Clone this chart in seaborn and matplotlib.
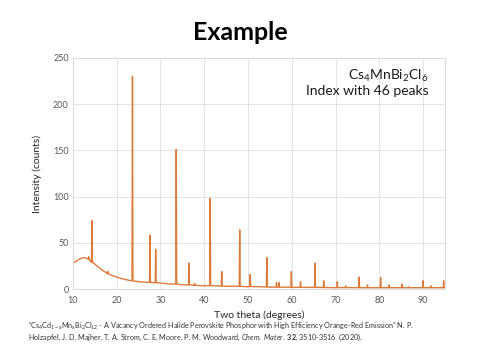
import matplotlib
matplotlib.use("Agg")
import matplotlib.pyplot as plt
import seaborn as sns
import pandas as pd

# ---- data ----
bg_theta = [10, 10.5, 11, 11.5, 12, 12.5, 13, 13.4, 14, 15, 16, 17, 17.7, 18.4, 19, 20,
            21, 22, 23, 24, 26, 28, 30, 32, 35, 38, 40, 45, 50, 55, 60, 70, 80, 95]
bg_counts = [28, 29.5, 31, 32.5, 33.5, 34, 33.5, 32.5, 30, 27, 23, 19.5, 17.5, 16, 14.5, 13,
             11.5, 10.3, 9.3, 8.6, 7.6, 7, 6.5, 5.5, 4.6, 4, 3.6, 3, 2.5, 2.1, 1.8, 1.5, 1.5, 1.5]

peak_theta = [13.6, 14.35, 18.0, 23.6, 27.6, 28.9, 33.6, 36.5, 37.8, 41.35, 44.0, 48.1,
              50.5, 54.3, 56.5, 57.1, 59.9, 62.0, 65.3, 67.3, 70.4, 72.3, 75.4, 77.3,
              80.3, 82.2, 85.2, 86.8, 90.0, 91.8, 94.7]
peak_top = [35, 74, 19, 230, 58, 43, 151, 28, 6, 98, 19, 64,
            16, 34, 7, 7, 19, 8, 28, 9, 8, 3.5, 13, 4.5,
            12.5, 4.5, 5.5, 2.5, 9, 3.5, 9]
peak_base = [32.5, 29, 16.5, 9, 7.2, 7, 5.5, 4.6, 4.2, 3.8, 3.3, 3,
             2.8, 2.3, 2.1, 2.1, 2, 1.9, 1.8, 1.7, 1.6, 1.6, 1.5, 1.5,
             1.5, 1.5, 1.5, 1.5, 1.5, 1.5, 1.5]

title = "Example"
xlabel = "Two theta (degrees)"
ylabel = "Intensity (counts)"
x_ticks = [10, 20, 30, 40, 50, 60, 70, 80, 90]
y_ticks = [0, 50, 100, 150, 200, 250]

# ---- build the line (background + sharp peaks) ----
half_width = 0.1
rows = [(t, c) for t, c in zip(bg_theta, bg_counts)]
for t, top, base in zip(peak_theta, peak_top, peak_base):
    rows.append((t - half_width, base))
    rows.append((t, top))
    rows.append((t + half_width, base))
df = pd.DataFrame(rows, columns=["theta", "counts"]).sort_values("theta")

sns.set_theme(style="whitegrid")
plt.rcParams["font.family"] = ["Lato", "DejaVu Sans"]
plt.rcParams["mathtext.fontset"] = "custom"
plt.rcParams["mathtext.rm"] = "Lato"
plt.rcParams["mathtext.it"] = "Lato:italic"
plt.rcParams["mathtext.bf"] = "Lato:bold"
plt.rcParams["mathtext.default"] = "regular"

fig = plt.figure(figsize=(4.8, 3.6), dpi=100)
fig.patch.set_facecolor("white")
ax = fig.add_axes([0.152, 0.197, 0.775, 0.642])
ax.set_facecolor("white")

sns.lineplot(data=df, x="theta", y="counts", ax=ax, color="#DD7A3A",
             linewidth=1.0, estimator=None, sort=False)

ax.set_xlim(10, 95)
ax.set_ylim(0, 250)
ax.set_xticks(x_ticks)
ax.set_yticks(y_ticks)
ax.tick_params(axis="x", length=0, labelsize=6.5, labelcolor="#595959", pad=5)
ax.tick_params(axis="y", length=0, labelsize=6.5, labelcolor="#595959", pad=3)
ax.grid(True, color="#E3E3E3", linewidth=0.7)
for s in ax.spines.values():
    s.set_color("#D9D9D9")
    s.set_linewidth(0.7)

ax.set_xlabel(xlabel, fontsize=7.5, color="#262626", labelpad=4)
ax.set_ylabel(ylabel, fontsize=7.5, color="#262626", labelpad=8)

ax.text(0.955, 0.955, r"Cs$_4$MnBi$_2$Cl$_6$" + "\nIndex with 46 peaks",
        transform=ax.transAxes, ha="right", va="top", fontsize=10,
        color="#1a1a1a", linespacing=1.1)

fig.text(0.5, 0.91, title, ha="center", va="center", fontsize=18,
         fontweight="bold", color="black")

fig.text(0.058, 1 - 326 / 360,
         "\u201cCs$_4$Cd$_{1-x}$Mn$_x$Bi$_2$Cl$_{12}$ - A Vacancy Ordered Halide Perovskite "
         "Phosphor with High Efficiency Orange-Red Emission\u201d N. P.",
         ha="left", va="center", fontsize=5.25, color="#333333")
fig.text(0.058, 1 - 337 / 360,
         r"Holzapfel, J. D. Majher, T. A. Strom, C. E. Moore, P. M. Woodward, "
         r"$\it{Chem.\ Mater.}$ $\bf{32}$, 3510-3516  (2020).",
         ha="left", va="center", fontsize=5.25, color="#333333")

fig.savefig("out.png", dpi=100, facecolor="white")
